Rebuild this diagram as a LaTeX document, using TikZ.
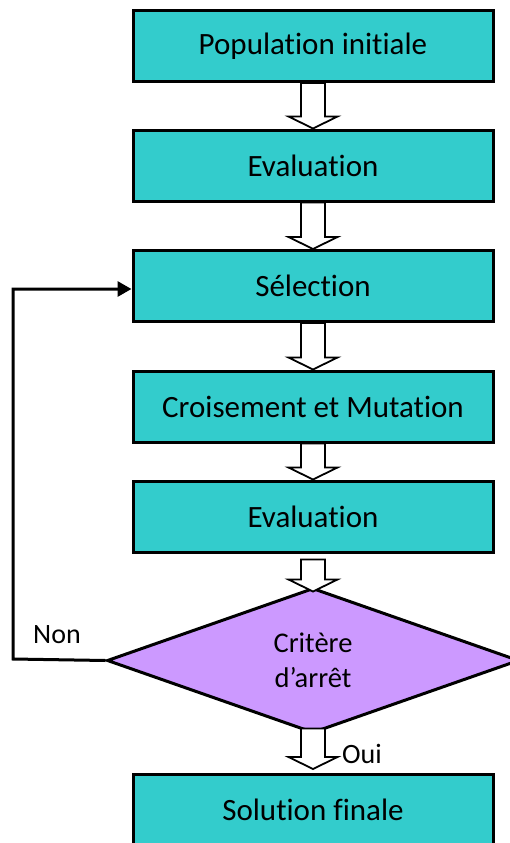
\documentclass[tikz,border=0pt]{standalone}
\usepackage{fontspec}
\setmainfont{Carlito}[Ligatures={NoCommon}]
\usetikzlibrary{shapes.geometric,arrows.meta,calc}
\definecolor{boxteal}{HTML}{33CCCC}
\definecolor{critpurple}{HTML}{CC99FF}
\tikzset{
  stepbox/.style={draw=black, line width=3pt, fill=boxteal, minimum width=360pt, minimum height=71pt, inner sep=0pt, font=\fontsize{31}{37}\selectfont},
  critbox/.style={draw=black, line width=3pt, fill=critpurple, shape=diamond, minimum width=412pt, minimum height=145pt, inner sep=0pt, align=center, font=\fontsize{28.5}{35}\selectfont},
  barrow/.style={draw=black, fill=white, line width=1.8pt, line join=miter},
  feedback/.style={draw=black, line width=3pt, -{Triangle[length=14pt,width=15pt]}},
  lbl/.style={font=\fontsize{28}{32}\selectfont, inner sep=0pt}
}
\newcommand\blockarr[2]{%
  \draw[barrow] let \p1=(#1), \p2=(#2) in
    (\x2-12pt,\y1) -- (\x2-12pt,\y2+12pt) -- (\x2-24.5pt,\y2+12pt) -- (\x2,\y2)
    -- (\x2+24.5pt,\y2+12pt) -- (\x2+12pt,\y2+12pt) -- (\x2+12pt,\y1) -- cycle;}
\begin{document}
\begin{tikzpicture}[x=1pt,y=-1pt]
\useasboundingbox (0,0) rectangle (510,843);
\clip (0,0) rectangle (510,843);
\node[stepbox] (pop) at (313,46) {Population initiale};
\node[stepbox] (ev1) at (313,165.5) {Evaluation};
\node[stepbox] (sel) at (313,286) {Sélection};
\node[stepbox] (cro) at (313,406.5) {Croisement et Mutation};
\node[stepbox] (ev2) at (313,516.5) {Evaluation};
\node[critbox] (crit) at (313,660.5) {Critère\\d’arrêt};
\node[stepbox] (sol) at (313,810) {Solution finale};
\blockarr{pop.south}{ev1.north}
\blockarr{ev1.south}{sel.north}
\blockarr{sel.south}{cro.north}
\blockarr{cro.south}{ev2.north}
\blockarr{$(ev2.south)+(0,6)$}{$(crit.north)+(0,5)$}
\blockarr{$(crit.south)+(0,-6)$}{$(sol.north)+(0,-4)$}
\coordinate (c1) at (13,659);
\coordinate (c2) at (13,289);
\draw[feedback] (crit.west) -- (c1) -- (c2) -- (sel.west |- c2);
\node[lbl, anchor=base] (non) at (57,643) {Non};
\node[lbl, anchor=base west] (oui) at (342,763) {Oui};
\end{tikzpicture}
\end{document}
